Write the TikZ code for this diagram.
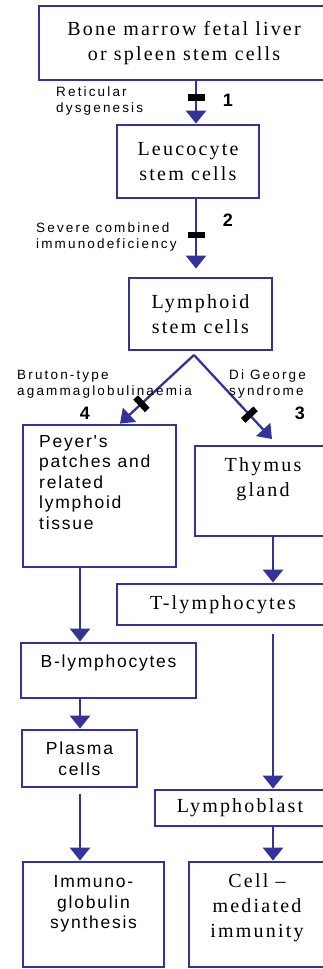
\documentclass[tikz,border=0pt]{standalone}
\usepackage{fontspec}
\setmainfont{Liberation Serif}
\newfontfamily\serifbox[LetterSpace=11]{Liberation Serif}
\newfontfamily\sansbox[LetterSpace=10]{Liberation Sans}
\newfontfamily\sanslab[LetterSpace=16]{Liberation Sans}
\newfontfamily\sansnum{Liberation Sans}
\usetikzlibrary{arrows.meta}
\definecolor{navy}{RGB}{51,51,153}
\tikzset{
  box/.style={draw=navy, line width=2.8pt, fill=white, inner sep=0pt},
  serift/.style={font=\serifbox\fontsize{20}{25}\selectfont, align=center, text=black},
  sanst/.style={font=\sansbox\fontsize{17.5}{20.5}\selectfont, text=black},
  lab/.style={font=\sanslab\fontsize{13.5}{16}\selectfont, align=left, inner sep=0pt, anchor=west},
  num/.style={font=\sansnum\bfseries\fontsize{18}{20}\selectfont, inner sep=0pt},
  arr/.style={draw=navy, line width=2.8pt, -{Triangle[width=20pt,length=13pt]}},
  darr/.style={draw=navy, line width=2.3pt, -{Triangle[width=19pt,length=13pt]}},
  cut/.style={fill=black, draw=none, minimum width=6.5pt, minimum height=17pt, inner sep=0pt, sloped}
}
\begin{document}
\begin{tikzpicture}[x=1pt,y=-1pt]
\useasboundingbox (0,0) rectangle (323,969);
\fill[white] (0,0) rectangle (323,969);
\clip (0,0) rectangle (323,969);
% column coordinates
\coordinate (cM) at (196,0);
\coordinate (cL) at (80,0);
\coordinate (cR) at (273,0);
\coordinate (ap) at (194,355);
\coordinate (tL) at (120,0);
\coordinate (tR) at (272,439);
% boxes
\node[box, serift, minimum width=290pt, minimum height=74pt] (bm) at (184,43) {Bone marrow fetal liver\\or spleen stem cells};
\node[box, serift, minimum width=142pt, minimum height=73pt] (leu) at (188,161.5) {Leucocyte\\stem cells};
\node[box, serift, minimum width=143pt, minimum height=72pt] (lym) at (200.5,314) {Lymphoid\\stem cells};
\node[box, minimum width=153pt, minimum height=142pt] (pey) at (99.5,496) {};
\node[sanst, align=left, anchor=north west, inner sep=0pt] (peyt) at (39,435) {Peyer's\\patches and\\related\\lymphoid\\tissue};
\node[box, minimum width=136pt, minimum height=90pt] (thy) at (263,491) {};
\node[serift, inner sep=0pt] (thyt) at (263,479) {Thymus\\gland};
\node[box, serift, minimum width=212pt, minimum height=41pt] (tly) at (223,604.5) {T-lymphocytes};
\node[box, minimum width=175pt, minimum height=55pt] (bly) at (108.5,670.5) {};
\node[sanst, inner sep=0pt] (blyt) at (108.5,663) {B-lymphocytes};
\node[box, sanst, align=center, minimum width=115pt, minimum height=57pt] (pla) at (79.5,758.5) {Plasma\\cells};
\node[box, minimum width=141pt, minimum height=105pt] (imm) at (93.5,914.5) {};
\node[sanst, align=center, inner sep=0pt] (immt) at (93.5,904) {Immuno-\\globulin\\synthesis};
\node[box, serift, minimum width=170pt, minimum height=36pt] (lbl) at (240,808) {Lymphoblast};
\node[box, minimum width=136pt, minimum height=105pt] (cel) at (257,914.5) {};
\node[serift, inner sep=0pt] (celt) at (257,908) {Cell \textendash\\mediated\\immunity};
% connectors
\draw[arr] (bm.south -| cM) -- node[cut, pos=0.38] (k1) {} (leu.north -| cM);
\draw[arr, shorten >=8pt] (leu.south -| cM) -- node[cut, pos=0.46] (k2) {} (lym.north -| cM);
\draw[darr] (ap) -- node[cut, pos=0.71] (k4) {} (pey.north -| tL);
\draw[darr] (ap) -- node[cut, pos=0.71] (k3) {} (tR);
\draw[arr] (thy.south -| cR) -- (tly.north -| cR);
\draw[arr, shorten <=8pt] (tly.south -| cR) -- (lbl.north -| cR);
\draw[arr] (lbl.south -| cR) -- (cel.north -| cR);
\draw[arr] (pey.south -| cL) -- (bly.north -| cL);
\draw[arr] (bly.south -| cL) -- (pla.north -| cL);
\draw[arr, shorten <=6pt] (pla.south -| cL) -- (imm.north -| cL);
% labels
\node[lab] (l1) at (56,101) {Reticular\\dysgenesis};
\node[lab] (l2) at (36,237) {Severe combined\\immunodeficiency};
\node[lab] (l4) at (17,384) {Bruton-type\\agammaglobulinaemia};
\node[lab] (l3) at (229,384) {Di George\\syndrome};
\node[num] (n1) at (228,100) {1};
\node[num] (n2) at (228,220) {2};
\node[num] (n4) at (85,413) {4};
\node[num] (n3) at (300,413) {3};
\end{tikzpicture}
\end{document}
